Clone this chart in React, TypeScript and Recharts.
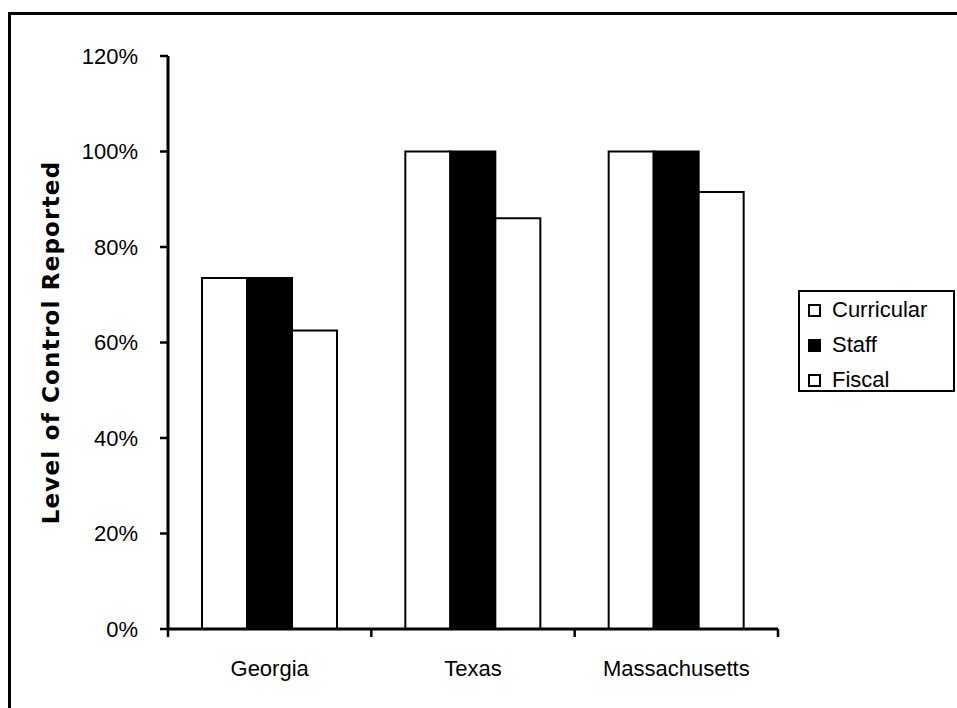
import { Bar, BarChart, Legend, XAxis, YAxis } from "recharts"

const categories = ["Georgia", "Texas", "Massachusetts"]
const curricular = [73.5, 100, 100]
const staff = [73.5, 100, 100]
const fiscal = [62.5, 86, 91.5]
const yTicks = [0, 20, 40, 60, 80, 100, 120]

const series = [
  { key: "Curricular", fill: "#ffffff" },
  { key: "Staff", fill: "#000000" },
  { key: "Fiscal", fill: "#ffffff" },
]

const data = categories.map((name, i) => ({
  name,
  Curricular: curricular[i],
  Staff: staff[i],
  Fiscal: fiscal[i],
}))

const W = 957
const H = 708
const LEFT = 168
const RIGHT = 179
const TOP = 56
const TICK_SIZE = 8
const TICK_MARGIN = 23
const BAND = (W - LEFT - RIGHT) / categories.length

const font = "'Liberation Sans', Arial, sans-serif"

// category label at the band centre, tick marks on the band edges
function CategoryTick(props: any) {
  const { x, y, payload, index } = props
  const top = y - TICK_MARGIN - TICK_SIZE
  const edges = [x - BAND / 2]
  if (index === categories.length - 1) edges.push(x + BAND / 2)
  return (
    <g>
      {edges.map((ex) => (
        <line key={ex} x1={ex} x2={ex} y1={top} y2={top + TICK_SIZE} stroke="#000" strokeWidth={2.5} />
      ))}
      <text x={x} y={y} dy="0.71em" textAnchor="middle" fontFamily={font} fontSize={22} fill="#000">
        {payload.value}
      </text>
    </g>
  )
}

function AxisTitle(props: any) {
  const { viewBox } = props
  const cy = viewBox.y + viewBox.height / 2
  return (
    <text
      transform={`translate(51,${cy}) rotate(-90)`}
      textAnchor="middle"
      dominantBaseline="central"
      fontFamily="'DejaVu Sans', sans-serif"
      fontWeight="bold"
      fontSize={23}
      letterSpacing={1.2}
      fill="#000"
    >
      Level of Control Reported
    </text>
  )
}

function LegendBox() {
  return (
    <div
      style={{
        position: "relative",
        width: 153,
        height: 98,
        border: "2px solid #000",
        fontFamily: font,
        fontSize: 22,
        color: "#000",
        boxSizing: "content-box",
      }}
    >
      {series.map((s, i) => (
        <div key={s.key} style={{ position: "absolute", left: 8, top: 3 + i * 35, display: "flex", alignItems: "center", height: 30 }}>
          <span
            style={{
              display: "inline-block",
              width: 9,
              height: 9,
              border: "2px solid #000",
              background: s.fill,
              marginRight: 11,
            }}
          />
          <span>{s.key}</span>
        </div>
      ))}
    </div>
  )
}

export default function App() {
  return (
    <div style={{ position: "absolute", left: 0, top: 0, width: W, height: H, background: "#fff", overflow: "hidden" }}>
      <div
        style={{
          position: "absolute",
          left: 8,
          top: 12,
          width: W,
          height: H,
          borderTop: "3px solid #000",
          borderLeft: "3px solid #000",
        }}
      />
      <BarChart
        width={W}
        height={H}
        data={data}
        margin={{ top: TOP, right: RIGHT, bottom: 39, left: 0 }}
        barGap={0}
        barCategoryGap={34}
        style={{ position: "absolute", left: 0, top: 0 }}
      >
        <XAxis
          dataKey="name"
          height={40}
          tickSize={TICK_SIZE}
          tickMargin={TICK_MARGIN}
          tickLine={false}
          axisLine={{ stroke: "#000", strokeWidth: 3 }}
          tick={<CategoryTick />}
          interval={0}
        />
        <XAxis xAxisId="top" orientation="top" dataKey="name" height={0} tick={false} tickLine={false} axisLine={{ stroke: "#000", strokeWidth: 2 }} />
        <YAxis
          width={LEFT}
          domain={[0, 120]}
          ticks={yTicks}
          tickFormatter={(v) => `${v}%`}
          tickSize={TICK_SIZE}
          tickMargin={22}
          tick={{ fill: "#000", fontFamily: font, fontSize: 22 }}
          tickLine={{ stroke: "#000", strokeWidth: 2.5 }}
          axisLine={{ stroke: "#000", strokeWidth: 3 }}
          label={<AxisTitle />}
        />
        <YAxis yAxisId="right" orientation="right" width={0} domain={[0, 120]} tick={false} tickLine={false} axisLine={{ stroke: "#000", strokeWidth: 2 }} />
        <Legend
          layout="horizontal"
          verticalAlign="middle"
          align="center"
          content={<LegendBox />}
          wrapperStyle={{ position: "absolute", left: 798, top: 290, width: 157, height: 102 }}
        />
        {series.map((s) => (
          <Bar key={s.key} dataKey={s.key} fill={s.fill} stroke="#000" strokeWidth={2} isAnimationActive={false} />
        ))}
      </BarChart>
    </div>
  )
}
